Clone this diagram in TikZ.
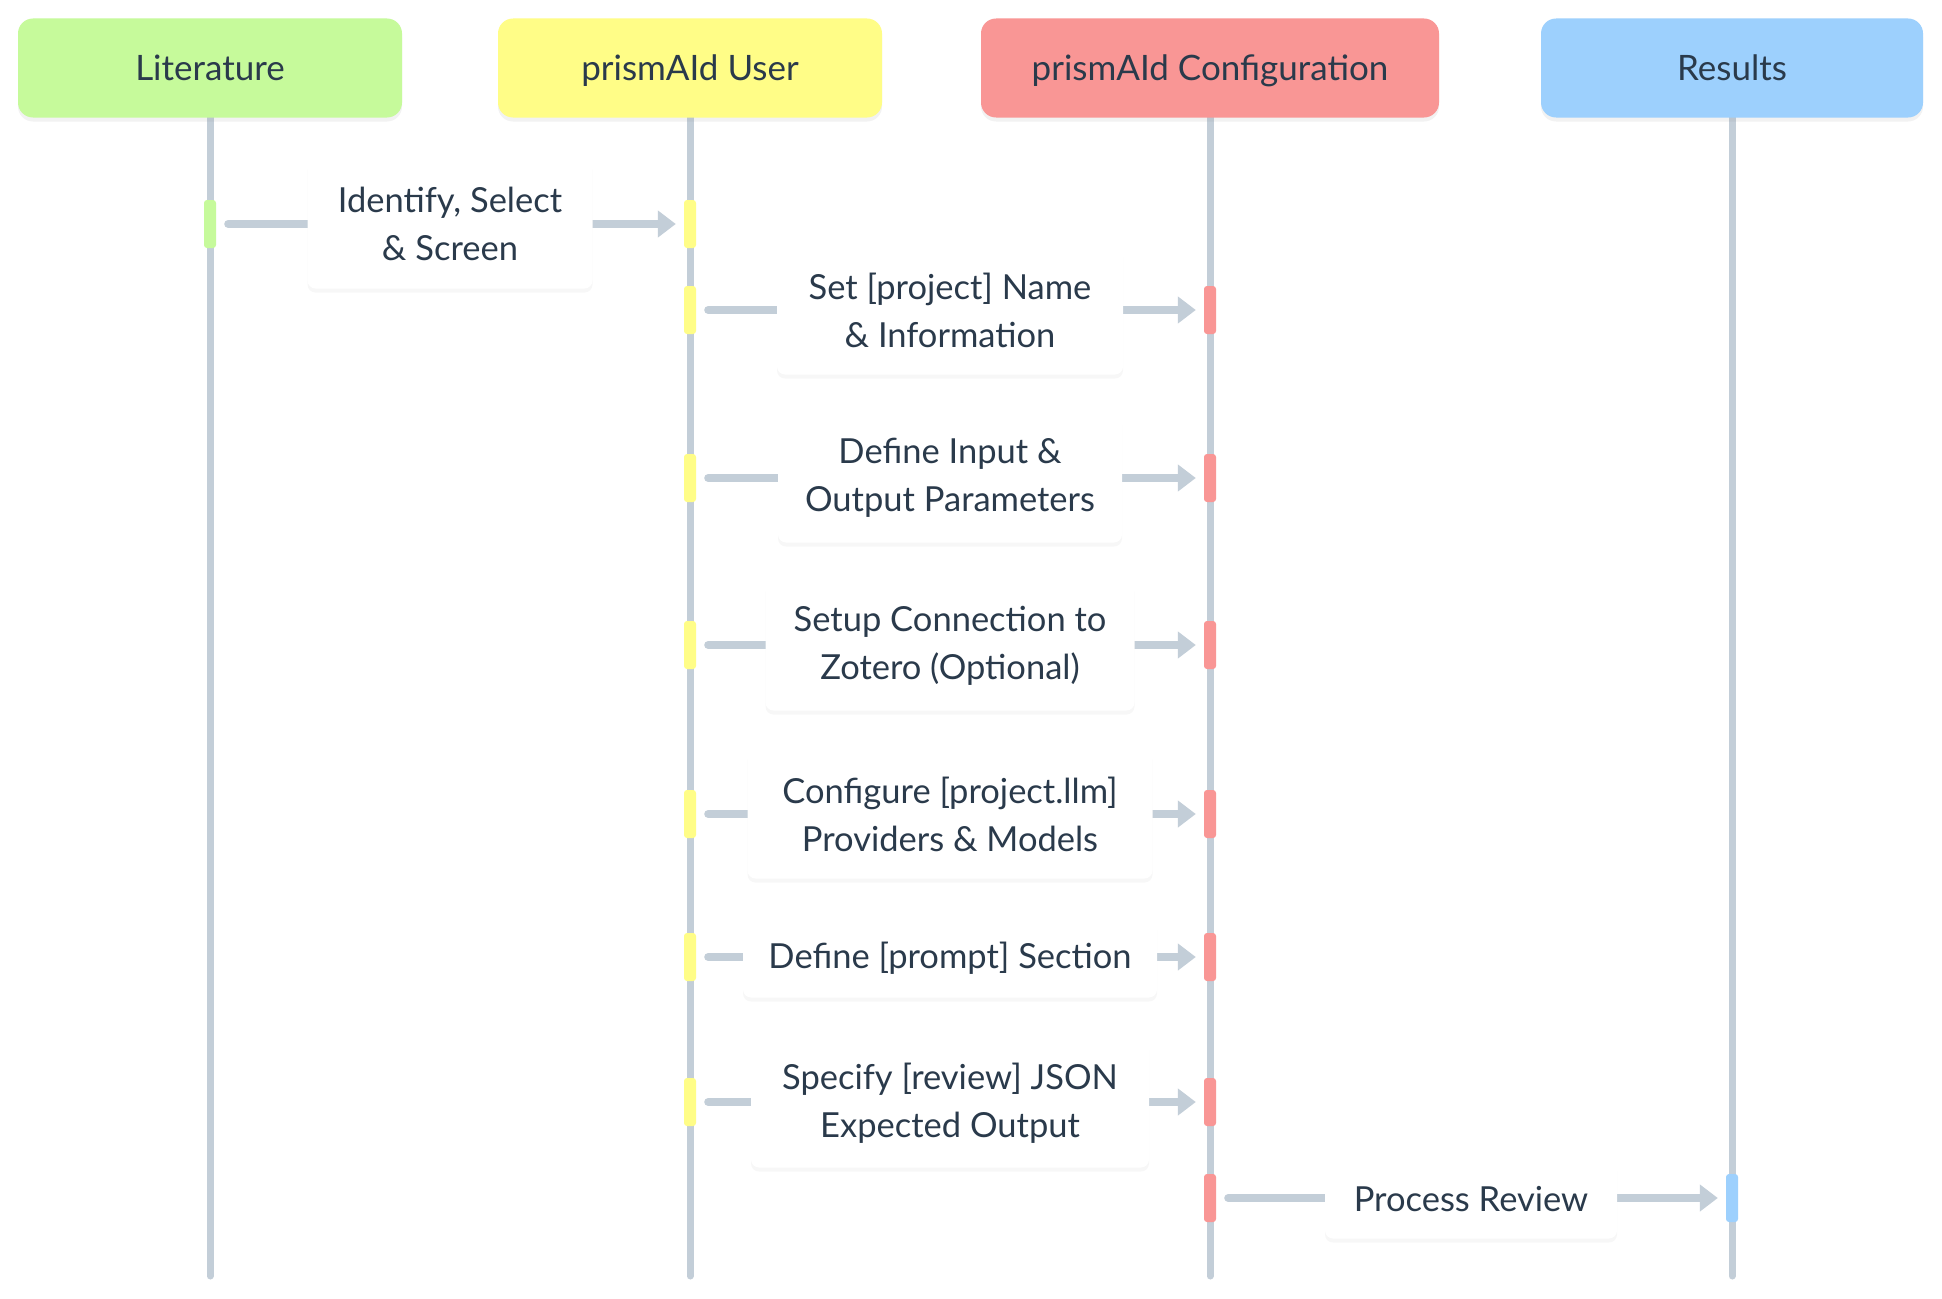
\documentclass[tikz,border=0pt]{standalone}
\usepackage{fontspec}
\setmainfont{Lato}
\usetikzlibrary{arrows.meta,shadows}
\definecolor{txt}{HTML}{2A3A4B}
\definecolor{life}{HTML}{C3CED8}
\definecolor{cLit}{HTML}{C6FA9B}
\definecolor{cUsr}{HTML}{FFFD87}
\definecolor{cCfg}{HTML}{F99695}
\definecolor{cRes}{HTML}{9DD0FD}
\pgfdeclarelayer{bg}
\pgfsetlayers{bg,main}
\begin{document}
\begin{tikzpicture}[x=1pt,y=-1pt,
  hdr/.style={rounded corners=15pt, minimum height=99pt, text=txt, inner sep=0pt,
    font=\fontsize{35}{40}\selectfont, text height=31pt, text depth=5pt,
    drop shadow={opacity=0.10,shadow xshift=0pt,shadow yshift=-4pt}},
  lifeline/.style={draw=life, line width=7pt, line cap=round},
  actbar/.style={rounded corners=3pt, minimum width=12pt, minimum height=48pt, inner sep=0pt},
  msgarrow/.style={draw=life, line width=8pt, line cap=round,
    -{Triangle[length=18pt,width=26pt]}, shorten <=12pt, shorten >=8pt},
  msgbox/.style={fill=white, rounded corners=8pt, align=center, text=txt, inner sep=0pt,
    font=\fontsize{34.5}{48}\selectfont,
    drop shadow={opacity=0.06,shadow xshift=0pt,shadow yshift=-4pt}},
  two/.style={minimum height=129pt},
  one/.style={minimum height=79pt}
]
\useasboundingbox (0,0) rectangle (1942,1298);

% headers
\node[hdr, fill=cLit, minimum width=384pt] (lit) at (210,68) {Literature};
\node[hdr, fill=cUsr, minimum width=384pt] (usr) at (690,68) {prismAId User};
\node[hdr, fill=cCfg, minimum width=458pt] (cfg) at (1210,68) {prismAId Configuration};
\node[hdr, fill=cRes, minimum width=382pt] (res) at (1732,68) {Results};

\coordinate (litend) at (210,1276);
\coordinate (usrend) at (690,1276);
\coordinate (cfgend) at (1210,1276);
\coordinate (resend) at (1732,1276);

\begin{pgfonlayer}{bg}
\fill[white] (0,0) rectangle (1942,1298);
\draw[lifeline] (lit.south) -- (litend);
\draw[lifeline] (usr.south) -- (usrend);
\draw[lifeline] (cfg.south) -- (cfgend);
\draw[lifeline] (res.south) -- (resend);
\end{pgfonlayer}

% message 1
\node[actbar, fill=cLit] (a1) at (210,224) {};
\node[actbar, fill=cUsr] (b1) at (690,224) {};
\draw[msgarrow] (a1) -- (b1);
\node[msgbox, two, minimum width=285pt] (t1) at (450,224) {Identify, Select\\\& Screen};

% message 2
\node[actbar, fill=cUsr] (a2) at (690,310) {};
\node[actbar, fill=cCfg] (b2) at (1210,310) {};
\draw[msgarrow] (a2) -- (b2);
\node[msgbox, two, minimum width=346pt] (t2) at (950,310) {Set [project] Name\\\& Information};

% message 3
\node[actbar, fill=cUsr] (a3) at (690,478) {};
\node[actbar, fill=cCfg] (b3) at (1210,478) {};
\draw[msgarrow] (a3) -- (b3);
\node[msgbox, two, minimum width=344pt] (t3) at (950,478) {Define Input \&\\Output Parameters};

% message 4
\node[actbar, fill=cUsr] (a4) at (690,645) {};
\node[actbar, fill=cCfg] (b4) at (1210,645) {};
\draw[msgarrow] (a4) -- (b4);
\node[msgbox, two, minimum width=369pt] (t4) at (950,646) {Setup Connection to\\Zotero (Optional)};

% message 5
\node[actbar, fill=cUsr] (a5) at (690,814) {};
\node[actbar, fill=cCfg] (b5) at (1210,814) {};
\draw[msgarrow] (a5) -- (b5);
\node[msgbox, two, minimum width=405pt] (t5) at (950,814) {Configure [project.llm]\\Providers \& Models};

% message 6
\node[actbar, fill=cUsr] (a6) at (690,957) {};
\node[actbar, fill=cCfg] (b6) at (1210,957) {};
\draw[msgarrow] (a6) -- (b6);
\node[msgbox, one, minimum width=414pt] (t6) at (950,958) {Define [prompt] Section};

% message 7
\node[actbar, fill=cUsr] (a7) at (690,1102) {};
\node[actbar, fill=cCfg] (b7) at (1210,1102) {};
\draw[msgarrow] (a7) -- (b7);
\node[msgbox, two, minimum width=398pt] (t7) at (950,1103) {Specify [review] JSON\\Expected Output};

% message 8
\node[actbar, fill=cCfg] (a8) at (1210,1198) {};
\node[actbar, fill=cRes] (b8) at (1732,1198) {};
\draw[msgarrow] (a8) -- (b8);
\node[msgbox, one, minimum width=292pt] (t8) at (1471,1199) {Process Review};
\end{tikzpicture}
\end{document}
